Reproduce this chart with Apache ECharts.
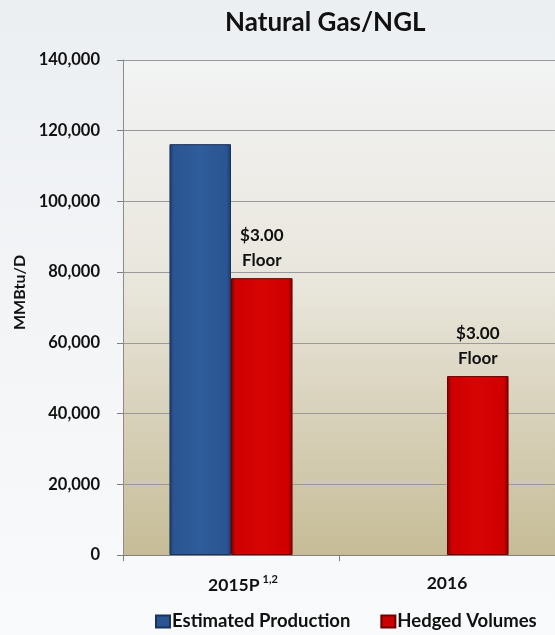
<!DOCTYPE html>
<html>
<head>
<meta charset="utf-8">
<script src="https://cdn.jsdelivr.net/npm/echarts@6/dist/echarts.min.js"></script>
<style>
  html, body { margin: 0; padding: 0; background: #f4f5f7; }
  #chart { width: 555px; height: 635px; }
</style>
</head>
<body>
<div id="chart"></div>
<script>
// Hedged natural gas / NGL volumes versus estimated production
const categories = ['2015P', '2016'];
const categoryNotes = ['1,2', ''];
const estimatedProduction = [116200, null];
const hedgedVolumes = [78300, 50600];
const hedgeNotes = ['$3.00\nFloor', '$3.00\nFloor'];
const yTicks = [0, 20000, 40000, 60000, 80000, 100000, 120000, 140000];

const FONT = 'Lato';

function barFill(dark, base, light) {
  return new echarts.graphic.LinearGradient(0, 0, 1, 0, [
    { offset: 0, color: dark },
    { offset: 0.07, color: base },
    { offset: 0.5, color: light },
    { offset: 0.93, color: base },
    { offset: 1, color: dark }
  ]);
}

const chart = echarts.init(document.getElementById('chart'));
chart.setOption({
  backgroundColor: new echarts.graphic.LinearGradient(0, 0, 0, 1, [
    { offset: 0, color: '#eceff2' },
    { offset: 1, color: '#f9fafb' }
  ]),
  animation: false,
  title: {
    text: 'Natural Gas/NGL',
    left: 220,
    top: 5,
    textStyle: { fontFamily: FONT, fontWeight: 'bold', fontSize: 26, color: '#111' }
  },
  legend: {
    left: 150,
    top: 607,
    itemGap: 30,
    itemWidth: 14,
    itemHeight: 12,
    icon: 'rect',
    textStyle: { fontFamily: FONT, fontWeight: 'bold', fontSize: 18.5, color: '#111', padding: [0, 0, 0, -3] },
    data: [
      { name: 'Estimated Production', itemStyle: { color: '#2b5592' } },
      { name: 'Hedged Volumes', itemStyle: { color: '#cc0000' } }
    ]
  },
  grid: {
    left: 123,
    right: 0,
    top: 60,
    bottom: 80,
    outerBoundsMode: 'none',
    containLabel: false,
    show: true,
    borderWidth: 0,
    backgroundColor: new echarts.graphic.LinearGradient(0, 0, 0, 1, [
      { offset: 0, color: '#f2f3f4' },
      { offset: 0.45, color: '#e9e6dc' },
      { offset: 1, color: '#c6bc97' }
    ])
  },
  xAxis: {
    type: 'category',
    data: categories,
    axisLine: { lineStyle: { color: '#7f7f7f', width: 1 } },
    axisTick: { show: true, length: 6, lineStyle: { color: '#7f7f7f' } },
    axisLabel: {
      margin: 19,
      formatter: function (value) {
        const note = categoryNotes[categories.indexOf(value)];
        return note ? '{a|' + value + '}{sup|' + note + '}' : '{b|' + value + '}';
      },
      rich: {
        a: { fontFamily: FONT, fontWeight: 'bold', fontSize: 17.5, color: '#111', padding: [0, 0, 0, 24] },
        b: { fontFamily: FONT, fontWeight: 'bold', fontSize: 17.5, color: '#111' },
        sup: { fontFamily: FONT, fontWeight: 'bold', fontSize: 11, color: '#111', verticalAlign: 'top', padding: [0, 0, 12, 3] }
      }
    }
  },
  yAxis: {
    type: 'value',
    min: yTicks[0],
    max: yTicks[yTicks.length - 1],
    interval: yTicks[1] - yTicks[0],
    name: 'MMBtu/D',
    nameLocation: 'middle',
    nameGap: 93,
    nameRotate: 90,
    nameTextStyle: { fontFamily: FONT, fontWeight: 'bold', fontSize: 16, color: '#111', padding: [0, 0, 0, 30] },
    axisLine: { show: true, lineStyle: { color: '#8c8c8c', width: 1 } },
    axisTick: { show: true, length: 6, lineStyle: { color: '#7f7f7f' } },
    axisLabel: {
      margin: 23,
      fontFamily: FONT,
      fontWeight: 'bold',
      fontSize: 16.5,
      color: '#111',
      formatter: function (v) { return v.toLocaleString('en-US'); }
    },
    splitLine: { show: true, lineStyle: { color: '#9a9a9a', width: 1 } }
  },
  series: [
    {
      name: 'Estimated Production',
      type: 'bar',
      data: estimatedProduction,
      barGap: '0%',
      barCategoryGap: '43%',
      itemStyle: {
        color: barFill('#1c3a68', '#2b5592', '#2f5c9c'),
        borderColor: '#1a3358',
        borderWidth: 1
      }
    },
    {
      name: 'Hedged Volumes',
      type: 'bar',
      data: hedgedVolumes,
      itemStyle: {
        color: barFill('#7a0000', '#cf0000', '#d80404'),
        borderColor: '#6e0000',
        borderWidth: 1
      },
      label: {
        show: true,
        position: 'top',
        distance: 5,
        formatter: function (p) { return hedgeNotes[p.dataIndex]; },
        fontFamily: FONT,
        fontWeight: 'bold',
        fontSize: 17,
        lineHeight: 25,
        color: '#111'
      }
    }
  ]
});
</script>
</body>
</html>
